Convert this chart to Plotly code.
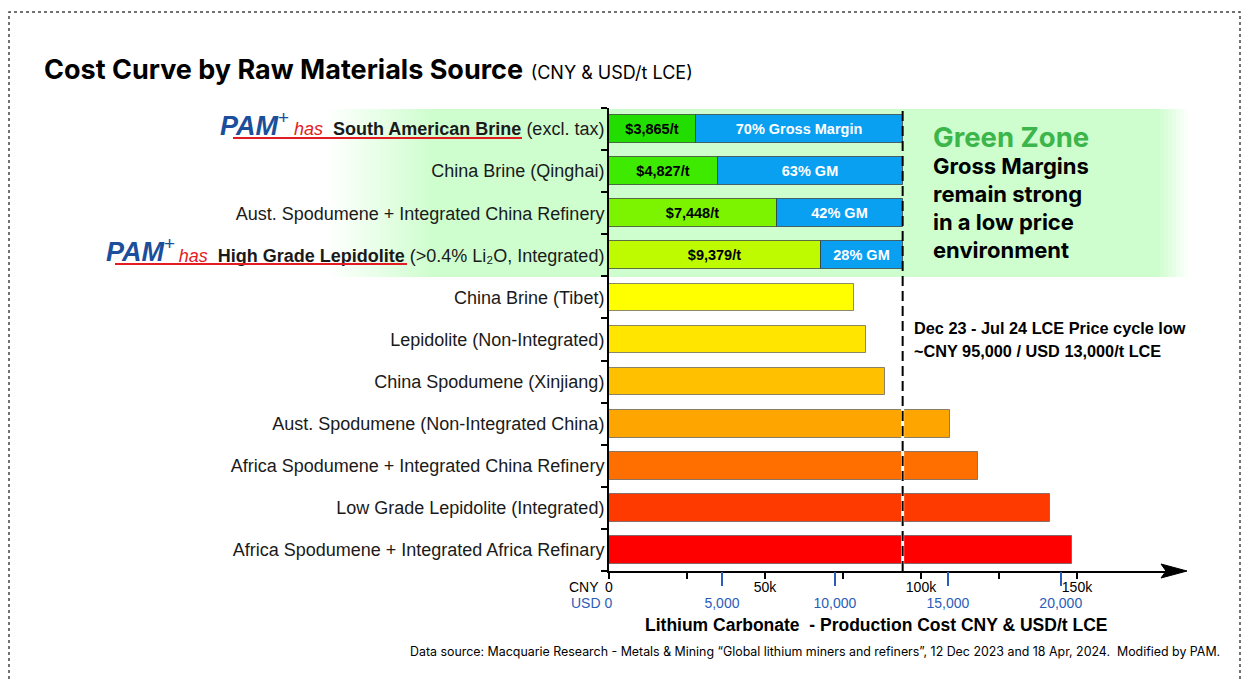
import plotly.graph_objects as go

# ---------------- data ----------------
categories = [
    "South American Brine",
    "China Brine (Qinghai)",
    "Aust. Spodumene + Integrated China Refinery",
    "High Grade Lepidolite",
    "China Brine (Tibet)",
    "Lepidolite (Non-Integrated)",
    "China Spodumene (Xinjiang)",
    "Aust. Spodumene (Non-Integrated China)",
    "Africa Spodumene + Integrated China Refinery",
    "Low Grade Lepidolite (Integrated)",
    "Africa Spodumene + Integrated Africa Refinary",
]
green_cats = categories[:4]
green_cost_usd = [3865, 4827, 7448, 9379]
green_gm_labels = ["70% Gross Margin", "63% GM", "42% GM", "28% GM"]
other_cats = categories[4:]
other_cost_cny = [78500, 82400, 88500, 109300, 118300, 141300, 148400]
usd_cny_rate = 7.24
price_low_usd = 13000
cny_tickvals = [0, 50000, 100000, 150000]
cny_ticktext = ["0", "50k", "100k", "150k"]
cny_minor_tickvals = [25000, 75000, 125000]
usd_tickvals = [5000, 10000, 15000, 20000]
usd_ticktext = ["5,000", "10,000", "15,000", "20,000"]

# ---------------- styling ----------------
green_colors = ["#22DD00", "#3EEA00", "#7CF400", "#BEFA00"]
other_colors = ["#FFFF00", "#FFE500", "#FFC000", "#FFA500", "#FF6F00", "#FF3A00", "#FF0000"]
blue = "#0AA0F2"
axis_blue = "#2A5DB8"
red = "#E31B23"
pam_blue = "#1B4E9B"
HEL = "Liberation Sans, Arial, sans-serif"
GEO = "Inter, Lato, sans-serif"

OFF = 8  # page body margin
FIG_W, FIG_H = 1233, 672
# plot area in reference-page pixels
L, R, T, B = 609, 1165, 108, 571
W, H = R - L, B - T
px_per_cny = 0.00312
cny_max = W / px_per_cny
n_cat = len(categories)


def px2x(px):
    return (px - L) / W


def py2y(py):
    return (B - py) / H


price_cny = price_low_usd * usd_cny_rate
green_cost_cny = [c * usd_cny_rate for c in green_cost_usd]
green_margin_cny = [price_cny - c for c in green_cost_cny]

fig = go.Figure()
bar_w = 0.66
fig.add_trace(go.Bar(
    y=green_cats, x=green_cost_cny, orientation="h", width=bar_w,
    marker=dict(color=green_colors, line=dict(color="rgba(50,50,50,0.7)", width=1)),
    text=[f"${c:,}/t" for c in green_cost_usd], textposition="inside",
    insidetextanchor="middle", textangle=0, constraintext="none",
    textfont=dict(family=HEL, size=14.5, color="black", weight="bold"),
    hoverinfo="skip", showlegend=False,
))
fig.add_trace(go.Bar(
    y=green_cats, x=green_margin_cny, base=green_cost_cny, orientation="h", width=bar_w,
    marker=dict(color=blue, line=dict(color="rgba(50,50,50,0.7)", width=1)),
    text=green_gm_labels, textposition="inside", insidetextanchor="middle",
    textangle=0, constraintext="none",
    textfont=dict(family=HEL, size=14.5, color="white", weight="bold"),
    hoverinfo="skip", showlegend=False,
))
fig.add_trace(go.Bar(
    y=other_cats, x=other_cost_cny, orientation="h", width=bar_w,
    marker=dict(color=other_colors, line=dict(color="rgba(90,90,90,0.7)", width=1)),
    hoverinfo="skip", showlegend=False,
))
# invisible trace on the USD axis
fig.add_trace(go.Scatter(x=[0], y=[categories[0]], xaxis="x2", mode="markers",
                         marker=dict(opacity=0), hoverinfo="skip", showlegend=False))

ticktext_y = []
for c in categories:
    if c == "South American Brine":
        ticktext_y.append(f'<span style="color:{red}"><i>has</i></span>&nbsp;&nbsp;<b>South American Brine</b> (excl. tax)')
    elif c == "High Grade Lepidolite":
        ticktext_y.append(f'<span style="color:{red}"><i>has</i></span>&nbsp;&nbsp;<b>High Grade Lepidolite</b> (&gt;0.4% Li₂O, Integrated)')
    else:
        ticktext_y.append(c)

shapes = []
# page border
shapes.append(dict(type="rect", xref="paper", yref="paper", x0=px2x(9), x1=px2x(1240),
                   y0=py2y(720), y1=py2y(12), line=dict(color="#444", width=1.5, dash="dot"),
                   layer="below"))
# green zone with faded edges
gz_y0, gz_y1 = py2y(277), py2y(109)
gz = "206,254,206"
shapes.append(dict(type="rect", xref="paper", yref="paper", x0=px2x(430), x1=px2x(1160),
                   y0=gz_y0, y1=gz_y1, fillcolor=f"rgb({gz})", line=dict(width=0), layer="below"))
n = 20
for i in range(n):
    a = (i + 1) / (n + 1)
    shapes.append(dict(type="rect", xref="paper", yref="paper", x0=px2x(330 + 5 * i), x1=px2x(335 + 5 * i),
                       y0=gz_y0, y1=gz_y1, fillcolor=f"rgba({gz},{a:.3f})", line=dict(width=0), layer="below"))
m = 7
for i in range(m):
    a = 1 - (i + 1) / (m + 1)
    shapes.append(dict(type="rect", xref="paper", yref="paper", x0=px2x(1160 + 4 * i), x1=px2x(1164 + 4 * i),
                       y0=gz_y0, y1=gz_y1, fillcolor=f"rgba({gz},{a:.3f})", line=dict(width=0), layer="below"))
# price line
shapes.append(dict(type="line", xref="x", yref="paper", x0=price_cny, x1=price_cny, y0=0, y1=py2y(283),
                   line=dict(color="white", width=3), layer="above"))
shapes.append(dict(type="line", xref="x", yref="paper", x0=price_cny, x1=price_cny, y0=0, y1=1.003,
                   line=dict(color="black", width=2, dash="10px,5px"), layer="above"))
# red underlines
shapes.append(dict(type="line", xref="paper", yref="paper", x0=px2x(233), x1=px2x(522), y0=py2y(138), y1=py2y(138),
                   line=dict(color=red, width=2)))
shapes.append(dict(type="line", xref="paper", yref="paper", x0=px2x(115), x1=px2x(407), y0=py2y(264), y1=py2y(264),
                   line=dict(color=red, width=2)))
# x-axis arrow
shapes.append(dict(type="line", xref="paper", yref="paper", x0=1, x1=px2x(1170), y0=0, y1=0,
                   line=dict(color="black", width=2)))
shapes.append(dict(type="path", xref="paper", yref="paper", xsizemode="pixel", ysizemode="pixel",
                   xanchor=1, yanchor=0, path="M -4,-7 L 22,0 L -4,7 L 1,0 Z",
                   fillcolor="black", line=dict(color="black", width=1)))

annotations = []


def ann(text, px, py, size, color="black", family=HEL, xanchor="left", yanchor="middle", **kw):
    annotations.append(dict(text=text, xref="paper", yref="paper", x=px2x(px), y=py2y(py),
                            xanchor=xanchor, yanchor=yanchor, showarrow=False,
                            font=dict(size=size, color=color, family=family), **kw))


ann("<b>Cost Curve by Raw Materials Source</b> <span style='font-size:18px'>(CNY &amp; USD/t LCE)</span>",
    42, 70, 27, family=GEO)
# PAM logos
ann("<b><i>PAM</i></b><sup>+</sup>", 291, 124, 27, color=pam_blue, xanchor="right")
ann("<b><i>PAM</i></b><sup>+</sup>", 177, 250, 27, color=pam_blue, xanchor="right")
# green zone text
ann("<b>Green Zone</b>", 931, 137, 27.5, color="#3CB54A", family=GEO)
for i, line in enumerate(["Gross Margins", "remain strong", "in a low price", "environment"]):
    ann(f"<b>{line}</b>", 931, 166 + 28 * i, 22, family=GEO)
# price annotation
ann("<b>Dec 23 - Jul 24 LCE Price cycle low</b>", 912, 328, 16.3)
ann("<b>~CNY 95,000 / USD 13,000/t LCE</b>", 912, 351, 16.3)
# axis labels
ann("CNY", 601, 587, 14, xanchor="right")
ann("USD 0", 614, 603, 14, color=axis_blue, xanchor="right")
ann("<b>Lithium Carbonate  - Production Cost CNY &amp; USD/t LCE</b>", 876, 625, 17.5, xanchor="center")
ann("Data source: Macquarie Research - Metals &amp; Mining \u201cGlobal lithium miners and refiners\u201d, 12 Dec 2023 and 18 Apr, 2024.  Modified by PAM.",
    408, 651, 12.4, family=GEO)

fig.update_layout(
    width=FIG_W, height=FIG_H,
    margin=dict(l=L - OFF, r=FIG_W - (R - OFF), t=T - OFF, b=FIG_H - (B - OFF), autoexpand=False),
    paper_bgcolor="white", plot_bgcolor="rgba(0,0,0,0)",
    barmode="overlay", bargap=0,
    shapes=shapes, annotations=annotations,
    xaxis=dict(range=[0, cny_max], tickvals=cny_tickvals, ticktext=cny_ticktext,
               ticks="outside", ticklen=6, tickwidth=1.5, tickcolor="black",
               minor=dict(tickvals=cny_minor_tickvals, ticks="outside", ticklen=6, tickwidth=1.5,
                          tickcolor="black", showgrid=False),
               ticklabelstandoff=-4,
               showline=True, linecolor="black", linewidth=2, showgrid=False, zeroline=False,
               tickfont=dict(family=HEL, size=14, color="black"), fixedrange=True),
    xaxis2=dict(range=[0, cny_max / usd_cny_rate], overlaying="x", side="bottom", anchor="y",
                tickvals=usd_tickvals, ticktext=usd_ticktext,
                ticks="outside", ticklen=14, tickwidth=1.5, tickcolor=axis_blue,
                ticklabelstandoff=5,
                showline=False, showgrid=False, zeroline=False,
                tickfont=dict(family=HEL, size=14, color=axis_blue)),
    yaxis=dict(type="category", categoryorder="array", categoryarray=categories,
               tickvals=categories, ticktext=ticktext_y,
               range=[n_cat - 0.5, -0.5], autorange=False,
               ticks="outside", tickson="boundaries", ticklen=6, tickwidth=1.5, tickcolor="black",
               showline=True, linecolor="black", linewidth=2, showgrid=False, zeroline=False,
               ticklabelstandoff=-1,
               tickfont=dict(family=HEL, size=18, color="#1a1a1a")),
)

fig.write_html("out.html")
